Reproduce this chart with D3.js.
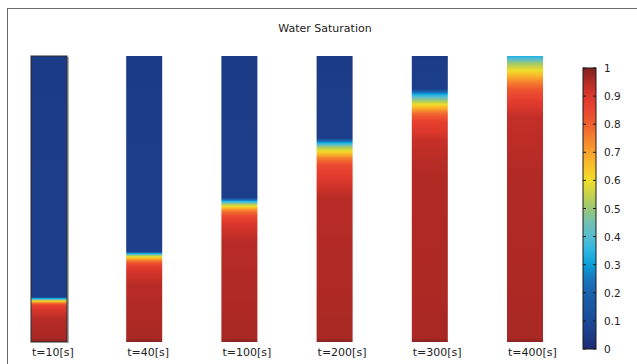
<!DOCTYPE html>
<html><head><meta charset="utf-8">
<script src="https://cdn.jsdelivr.net/npm/d3@7"></script>
<style>html,body{margin:0;padding:0;background:#fff;overflow:hidden}</style>
</head><body>
<svg id="c" width="637" height="364"></svg>
<script>
// ---- data ----
const title = "Water Saturation";
const times = ["t=10[s]", "t=40[s]", "t=100[s]", "t=200[s]", "t=300[s]", "t=400[s]"];
// height fraction from bottom of each column (0 = bottom, 1 = top)
const profileZ = [
  [0, 0.015, 0.08, 0.115, 0.13, 0.137, 0.142, 0.147, 0.152, 0.158, 1],
  [0, 0.015, 0.2, 0.255, 0.272, 0.285, 0.296, 0.303, 0.309, 0.317, 1],
  [0, 0.015, 0.35, 0.415, 0.44, 0.46, 0.472, 0.483, 0.492, 0.505, 1],
  [0, 0.015, 0.5, 0.566, 0.615, 0.643, 0.664, 0.683, 0.696, 0.713, 1],
  [0, 0.015, 0.6, 0.7, 0.77, 0.8, 0.826, 0.845, 0.86, 0.872, 0.885, 1],
  [0, 0.015, 0.6, 0.787, 0.836, 0.881, 0.909, 0.941, 0.976, 0.993, 1]
];
// water saturation at those heights
const profileS = [
  [0.99, 0.96, 0.945, 0.9, 0.85, 0.75, 0.64, 0.5, 0.32, 0.06, 0.05],
  [0.99, 0.96, 0.945, 0.9, 0.85, 0.75, 0.63, 0.5, 0.33, 0.06, 0.05],
  [0.99, 0.96, 0.945, 0.9, 0.85, 0.75, 0.63, 0.5, 0.33, 0.06, 0.05],
  [0.99, 0.96, 0.945, 0.9, 0.85, 0.75, 0.62, 0.5, 0.33, 0.06, 0.05],
  [0.99, 0.96, 0.95, 0.93, 0.87, 0.78, 0.63, 0.5, 0.38, 0.25, 0.06, 0.05],
  [0.99, 0.96, 0.95, 0.93, 0.89, 0.82, 0.75, 0.63, 0.5, 0.38, 0.33]
];
const colorTicks = [0, 0.1, 0.2, 0.3, 0.4, 0.5, 0.6, 0.7, 0.8, 0.9, 1];
const tickLabels = ["0", "0.1", "0.2", "0.3", "0.4", "0.5", "0.6", "0.7", "0.8", "0.9", "1"];
// colormap (value -> colour)
const cmapDomain = [0, 0.1, 0.2, 0.25, 0.3, 0.35, 0.4, 0.45, 0.5, 0.55, 0.6, 0.65, 0.7, 0.75, 0.8, 0.85, 0.9, 0.95, 1];
const cmapColors = ["#1e2c74", "#1a4a98", "#1a62ac", "#1777bd", "#0a9fd8", "#2cb6e0", "#55bdd2", "#72c1b0", "#98c874", "#c6d24a", "#f0de2a", "#f8c12a", "#f9a22c", "#f6812f", "#f05e2e", "#ea4630", "#dc372b", "#b32a25", "#80201f"];

// ---- drawing ----
const svg = d3.select("#c");
const color = d3.scaleLinear().domain(cmapDomain).range(cmapColors).clamp(true);

// frame
svg.append("rect").attr("x", 7.5).attr("y", 8.5).attr("width", 700).attr("height", 400)
  .attr("fill", "none").attr("stroke", "#6a6a6a").attr("stroke-width", 1);

svg.append("text").attr("x", 325).attr("y", 32).attr("text-anchor", "middle")
  .attr("font-family", "DejaVu Sans").attr("font-size", 11).attr("fill", "#222").text(title);

const colW = 36;
const xs = d3.scalePoint().domain(times).range([31, 507]);
const y = d3.scaleLinear().domain([0, 1]).range([342, 56]);

const defs = svg.append("defs");
times.forEach((t, i) => {
  const zArr = profileZ[i], sArr = profileS[i];
  const sAt = d3.scaleLinear().domain(zArr).range(sArr);
  const g = defs.append("linearGradient").attr("id", "g" + i)
    .attr("gradientUnits", "userSpaceOnUse")
    .attr("x1", 0).attr("x2", 0).attr("y1", y(0)).attr("y2", y(1));
  const stops = [];
  for (let k = 0; k < zArr.length - 1; k++) {
    const n = 10;
    for (let j = 0; j < n; j++) stops.push(zArr[k] + (zArr[k + 1] - zArr[k]) * j / n);
  }
  stops.push(zArr[zArr.length - 1]);
  stops.forEach(z => g.append("stop").attr("offset", z).attr("stop-color", color(sAt(z))));
});

// shadow of first (selected) column
svg.append("rect").attr("x", xs(times[0]) + colW).attr("y", y(1) + 1).attr("width", 2)
  .attr("height", y(0) - y(1)).attr("fill", "#b0b0b0");

svg.selectAll("rect.col").data(times).enter().append("rect")
  .attr("class", "col")
  .attr("x", d => xs(d)).attr("y", y(1))
  .attr("width", colW).attr("height", y(0) - y(1))
  .attr("fill", (d, i) => `url(#g${i})`)
  .attr("stroke", (d, i) => i === 0 ? "#2a2a2a" : "none")
  .attr("stroke-width", 1);

svg.selectAll("text.lab").data(times).enter().append("text")
  .attr("class", "lab")
  .attr("x", d => xs(d) + 1).attr("y", 356)
  .attr("font-family", "DejaVu Sans").attr("font-size", 11).attr("fill", "#222")
  .text(d => d);

// colorbar
const cbX = 583, cbW = 13;
const cy = d3.scaleLinear().domain([0, 1]).range([349, 68]);
const cg = defs.append("linearGradient").attr("id", "cbg")
  .attr("gradientUnits", "userSpaceOnUse")
  .attr("x1", 0).attr("x2", 0).attr("y1", cy(0)).attr("y2", cy(1));
cmapDomain.forEach((v, i) => cg.append("stop").attr("offset", v).attr("stop-color", cmapColors[i]));
svg.append("rect").attr("x", cbX).attr("y", cy(1)).attr("width", cbW).attr("height", cy(0) - cy(1))
  .attr("fill", "url(#cbg)").attr("stroke", "#1a1a1a").attr("stroke-width", 1);

const tk = svg.append("g");
colorTicks.forEach((v, i) => {
  tk.append("line").attr("x1", cbX).attr("x2", cbX + 3).attr("y1", cy(v)).attr("y2", cy(v))
    .attr("stroke", "#1a1a1a").attr("stroke-width", 1);
  tk.append("line").attr("x1", cbX + cbW - 3).attr("x2", cbX + cbW).attr("y1", cy(v)).attr("y2", cy(v))
    .attr("stroke", "#1a1a1a").attr("stroke-width", 1);
  tk.append("text").attr("x", 604).attr("y", cy(v) + 4)
    .attr("font-family", "DejaVu Sans").attr("font-size", 10.5).attr("fill", "#222")
    .text(tickLabels[i]);
});
</script>
</body></html>
